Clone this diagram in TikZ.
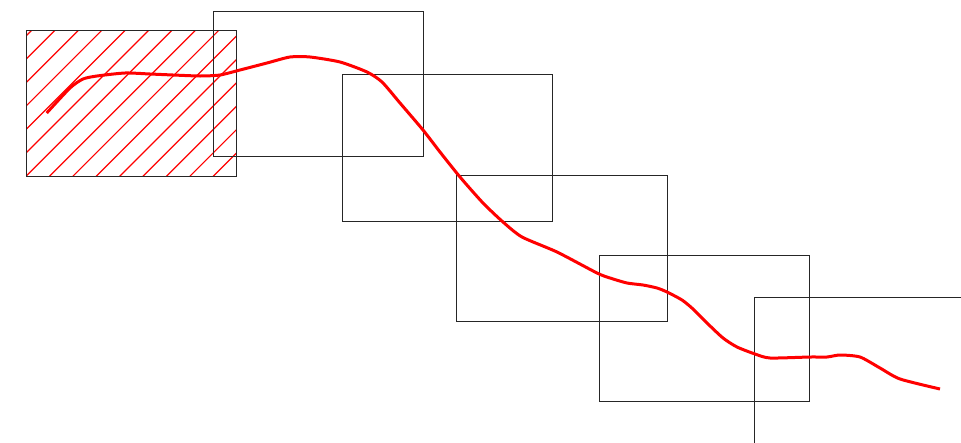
\documentclass[tikz,border=0pt]{standalone}
\begin{document}
\begin{tikzpicture}[x=1pt,y=-1pt,
  frame/.style={draw=black!85,line width=1pt},
  hatchline/.style={draw=red,line width=1.2pt},
  pathline/.style={draw=red,line width=3pt,line join=round}]
\useasboundingbox (0,0) rectangle (961,442);
% hatched rectangle
\begin{scope}
  \clip (26.7,30.7) rectangle (236.7,176.7);
  \foreach \c in {0,...,15}{
    \pgfmathsetmacro{\k}{61.9+23.4*\c}
    \draw[hatchline] (\k,0) -- (\k-250,250);
  }
\end{scope}
\coordinate (r1a) at (26.7,30.7);  \coordinate (r1b) at (236.7,176.7);
\coordinate (r2a) at (213.3,11);   \coordinate (r2b) at (423.3,156);
\coordinate (r3a) at (342.7,74.7); \coordinate (r3b) at (552.3,221);
\coordinate (r4a) at (456.7,175);  \coordinate (r4b) at (667.7,321.7);
\coordinate (r5a) at (599,255);    \coordinate (r5b) at (809.7,401);
\coordinate (r6a) at (754.3,297);  \coordinate (r6b) at (964.3,443);
\draw[frame] (r1a) rectangle (r1b);
\draw[frame] (r2a) rectangle (r2b);
\draw[frame] (r3a) rectangle (r3b);
\draw[frame] (r4a) rectangle (r4b);
\draw[frame] (r5a) rectangle (r5b);
\draw[frame] (r6a) rectangle (r6b);
% red trajectory
\draw[pathline] plot[smooth,tension=0.4] coordinates {
 (46.7,113) (70,88) (83,79) (97,76) (125,73) (150,74) (173,75) (200,76)
 (220,75) (240,70) (267,63) (290,57) (310,57) (340,62) (367,72) (382,82)
 (400,103) (423,130) (440,152) (460,177) (483,203) (503,222) (522,237)
 (557,252) (597,273) (610,278) (627,283) (643,285) (657,288) (667,292)
 (682,300) (693,309) (707,323) (723,338) (737,347) (755,354) (770,358)
 (810,357) (827,357) (840,355) (860,357) (880,368) (900,379) (940,389)};
\end{tikzpicture}
\end{document}
